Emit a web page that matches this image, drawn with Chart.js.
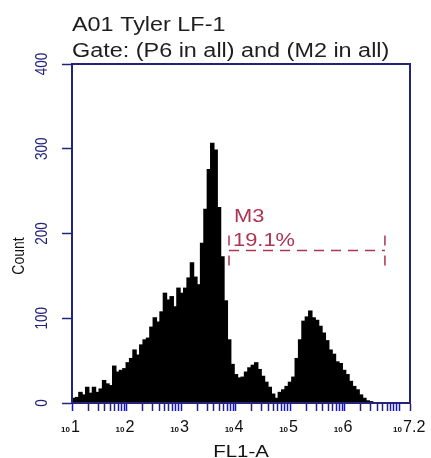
<!DOCTYPE html>
<html>
<head>
<meta charset="utf-8">
<script src="https://cdn.jsdelivr.net/npm/chart.js@4.4.1/dist/chart.umd.min.js"></script>
<style>
body { margin: 0; background: #fff; }
#wrap { width: 431px; height: 458px; }
</style>
</head>
<body>
<div id="wrap"><canvas id="myChart" width="431" height="458"></canvas></div>
<script>
const titleLines = ['A01 Tyler LF-1', 'Gate: (P6 in all) and (M2 in all)'];
const xTitle = 'FL1-A';
const yTitle = 'Count';

// histogram bins, x is log10(FL1-A)
const binStart = 1;
const binWidth = 0.062;
const counts = [
  5, 6, 12, 9, 18, 11, 18, 12, 16, 26,
  22, 20, 43, 36, 38, 40, 47, 52, 62, 56,
  68, 74, 76, 89, 100, 95, 107, 129, 121, 125,
  113, 135, 129, 135, 147, 165, 148, 139, 188, 228,
  275, 306, 298, 230, 172, 120, 74, 45, 33, 29,
  30, 36, 41, 44, 47, 39, 31, 24, 18, 10,
  5, 12, 15, 19, 24, 30, 52, 74, 96, 101,
  108, 100, 97, 90, 82, 73, 62, 57, 48, 46,
  38, 33, 25, 19, 15, 9, 5, 2, 1, 0,
  0, 0, 0, 0, 0, 0, 0, 0, 0, 0
];

const yTicks = [0, 100, 200, 300, 400];
const xDecades = [1, 2, 3, 4, 5, 6, 7];
const xMinorMult = [2, 3, 4, 5, 6, 7, 8, 9];
const xLabelPos = [1, 2, 3, 4, 5, 6, 7.2];
const xLabelExp = ['1', '2', '3', '4', '5', '6', '7.2'];

// marker M3
const markerName = 'M3';
const markerPct = '19.1%';
const markerRange = [3.88, 6.74];
const markerLevel = 180;

const fontFam = '"Liberation Sans", Arial, sans-serif';
const navy = '#23237a';
const markColor = '#ad3452';

const points = counts.map((c, i) => ({ x: binStart + binWidth * (i + 0.5), y: c }));

function txt(ctx, s, x, y, size, sx, align, color, weight) {
  ctx.save();
  ctx.font = (weight || '') + ' ' + size + 'px ' + fontFam;
  ctx.fillStyle = color;
  ctx.textAlign = align;
  ctx.textBaseline = 'alphabetic';
  ctx.translate(x, y);
  ctx.scale(sx, 1);
  ctx.fillText(s, 0, 0);
  ctx.restore();
}

function vtxt(ctx, s, x, y, size, sx, color) {
  ctx.save();
  ctx.font = size + 'px ' + fontFam;
  ctx.fillStyle = color;
  ctx.textAlign = 'center';
  ctx.textBaseline = 'middle';
  ctx.translate(x, y);
  ctx.rotate(-Math.PI / 2);
  ctx.scale(1, sx);
  ctx.fillText(s, 0, 0);
  ctx.restore();
}

const decor = {
  id: 'decor',
  afterDraw(chart) {
    const ctx = chart.ctx;
    const a = chart.chartArea;
    const xs = chart.scales.x;
    const ys = chart.scales.y;

    // frame
    ctx.save();
    ctx.strokeStyle = navy;
    ctx.lineWidth = 2;
    ctx.strokeRect(a.left, a.top, a.right - a.left, a.bottom - a.top);
    ctx.restore();

    // titles
    txt(ctx, titleLines[0], 72, 31, 20, 1.17, 'left', '#1e1e1e');
    txt(ctx, titleLines[1], 72, 57, 20, 1.17, 'left', '#1e1e1e');

    // y tick labels
    yTicks.forEach(v => {
      vtxt(ctx, String(v), 42, ys.getPixelForValue(v), 13.5, 1.25, navy);
    });
    vtxt(ctx, yTitle, 19, 256, 14, 1.2, '#111');

    // x tick labels 10^n
    xLabelPos.forEach((p, i) => {
      const px = xs.getPixelForValue(p);
      const last = i === xLabelPos.length - 1;
      txt(ctx, '10', last ? px - 8 : px - 2, 432, 8, 1, 'right', '#111', 'bold');
      txt(ctx, xLabelExp[i], last ? px - 7 : px - 1, 432, 17, 0.95, 'left', '#111');
    });
    txt(ctx, xTitle, 241, 457, 17, 1.2, 'center', '#111');

    // marker
    const x1 = xs.getPixelForValue(markerRange[0]);
    const x2 = xs.getPixelForValue(markerRange[1]);
    const my = ys.getPixelForValue(markerLevel);
    ctx.save();
    ctx.strokeStyle = markColor;
    ctx.lineWidth = 1.5;
    ctx.setLineDash([10, 7]);
    ctx.beginPath();
    ctx.moveTo(x1, my);
    ctx.lineTo(x2, my);
    ctx.stroke();
    ctx.setLineDash([]);
    [x1, x2].forEach(x => {
      ctx.beginPath();
      ctx.moveTo(x, my - 15);
      ctx.lineTo(x, my - 5);
      ctx.moveTo(x, my + 5);
      ctx.lineTo(x, my + 15);
      ctx.stroke();
    });
    ctx.restore();
    txt(ctx, markerName, x1 + 5, my - 28, 19, 1.15, 'left', markColor);
    txt(ctx, markerPct, x1 + 4, my - 4, 19, 1.15, 'left', markColor);
  }
};

new Chart('myChart', {
  type: 'bar',
  data: {
    datasets: [{
      data: points,
      backgroundColor: '#000',
      borderColor: '#000',
      borderWidth: 0,
      inflateAmount: 1,
      barPercentage: 1,
      categoryPercentage: 1
    }]
  },
  options: {
    responsive: false,
    animation: false,
    layout: { padding: { left: 62, top: 64, right: 21, bottom: 47 } },
    plugins: { legend: { display: false }, tooltip: { enabled: false } },
    scales: {
      x: {
        type: 'linear',
        min: xLabelPos[0],
        max: xLabelPos[xLabelPos.length - 1],
        offset: false,
        afterBuildTicks: scale => {
          const t = [];
          xDecades.forEach(d => {
            t.push({ value: d });
            if (d < 7) xMinorMult.forEach(m => t.push({ value: d + Math.log10(m) }));
          });
          t.push({ value: xLabelPos[xLabelPos.length - 1] });
          scale.ticks = t;
        },
        ticks: { display: false, autoSkip: false },
        border: { color: navy, width: 2 },
        grid: {
          offset: false,
          drawOnChartArea: false,
          tickLength: 8,
          tickWidth: 1.5,
          tickColor: c => {
            const v = c.tick ? c.tick.value : 0;
            const f = v - Math.floor(v);
            return (f < 0.01 || f > 0.84) ? '#1616c8' : navy;
          }
        }
      },
      y: {
        min: yTicks[0],
        max: yTicks[yTicks.length - 1],
        ticks: { display: false, stepSize: 100 },
        border: { color: navy, width: 2 },
        grid: { drawOnChartArea: false, tickLength: 10, tickWidth: 1.5, tickColor: navy }
      }
    }
  },
  plugins: [decor]
});
</script>
</body>
</html>
